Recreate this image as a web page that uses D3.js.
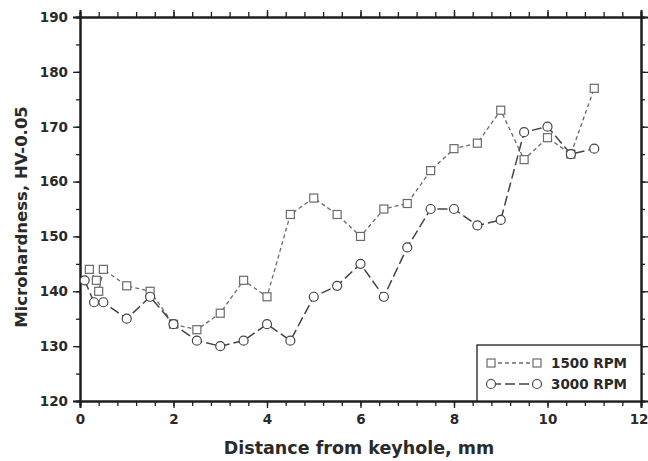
<!DOCTYPE html>
<html>
<head>
<meta charset="utf-8">
<script src="https://cdn.jsdelivr.net/npm/d3@7"></script>
<style>
  html, body { margin: 0; padding: 0; background: #fff; }
  svg { display: block; font-family: "DejaVu Sans", Arial, sans-serif; }
</style>
</head>
<body>
<svg id="chart" width="648" height="461"></svg>
<script>
// Microhardness traverse from the keyhole, two tool speeds
const dist1500 = [0.2, 0.35, 0.4, 0.5, 1.0, 1.5, 2.0, 2.5, 3.0, 3.5, 4.0, 4.5, 5.0, 5.5, 6.0, 6.5, 7.0, 7.5, 8.0, 8.5, 9.0, 9.5, 10.0, 10.5, 11.0];
const hv1500   = [144, 142, 140, 144, 141, 140, 134, 133, 136, 142, 139, 154, 157, 154, 150, 155, 156, 162, 166, 167, 173, 164, 168, 165, 177];
const dist3000 = [0.1, 0.3, 0.5, 1.0, 1.5, 2.0, 2.5, 3.0, 3.5, 4.0, 4.5, 5.0, 5.5, 6.0, 6.5, 7.0, 7.5, 8.0, 8.5, 9.0, 9.5, 10.0, 10.5, 11.0];
const hv3000   = [142, 138, 138, 135, 139, 134, 131, 130, 131, 134, 131, 139, 141, 145, 139, 148, 155, 155, 152, 153, 169, 170, 165, 166];
const seriesNames = ["1500 RPM", "3000 RPM"];
const xTickValues = [0, 2, 4, 6, 8, 10, 12];
const yTickValues = [120, 130, 140, 150, 160, 170, 180, 190];

const W = 648, H = 461;
const m = { left: 80, right: 7, top: 17, bottom: 60 };
const svg = d3.select("#chart");

const x = d3.scaleLinear().domain([0, 12]).range([m.left, W - m.right]);
const y = d3.scaleLinear().domain([120, 190]).range([H - m.bottom, m.top]);

const axisColor = "#1e1e1e";
const textColor = "#2a2a2a";

// minor ticks: every 0.4 mm on x, every 5 HV on y
const xMinor = d3.range(0, 12.0001, 0.4).map(v => +v.toFixed(2));
const yMinor = d3.range(120, 190.0001, 5);

function styleAxis(g) {
  g.selectAll("path.domain").attr("stroke", axisColor).attr("stroke-width", 2);
  g.selectAll(".tick line").attr("stroke", axisColor).attr("stroke-width", 1.3);
  g.selectAll("text").attr("fill", textColor).attr("font-size", 13.5).attr("font-weight", "bold")
    .attr("font-family", "DejaVu Sans, Arial, sans-serif");
}

// minor tick layers
svg.append("g").attr("transform", `translate(0,${H - m.bottom})`)
  .call(d3.axisBottom(x).tickValues(xMinor).tickSize(5).tickFormat(""))
  .call(styleAxis);
svg.append("g").attr("transform", `translate(0,${m.top})`)
  .call(d3.axisTop(x).tickValues(xMinor).tickSize(5).tickFormat(""))
  .call(styleAxis);
svg.append("g").attr("transform", `translate(${m.left},0)`)
  .call(d3.axisLeft(y).tickValues(yMinor).tickSize(4).tickFormat(""))
  .call(styleAxis);
svg.append("g").attr("transform", `translate(${W - m.right},0)`)
  .call(d3.axisRight(y).tickValues(yMinor).tickSize(4).tickFormat(""))
  .call(styleAxis);

// major ticks with labels
const xAxisG = svg.append("g").attr("transform", `translate(0,${H - m.bottom})`)
  .call(d3.axisBottom(x).tickValues(xTickValues).tickSize(7).tickPadding(6).tickFormat(d3.format("d")))
  .call(styleAxis);
// keep the last label inside the page edge
xAxisG.selectAll(".tick text").filter(d => d === 12)
  .attr("text-anchor", "end").attr("dx", 7);
svg.append("g").attr("transform", `translate(0,${m.top})`)
  .call(d3.axisTop(x).tickValues(xTickValues).tickSize(7).tickFormat(""))
  .call(styleAxis);
svg.append("g").attr("transform", `translate(${m.left},0)`)
  .call(d3.axisLeft(y).tickValues(yTickValues).tickSize(7).tickPadding(5).tickFormat(d3.format("d")))
  .call(styleAxis);
svg.append("g").attr("transform", `translate(${W - m.right},0)`)
  .call(d3.axisRight(y).tickValues(yTickValues).tickSize(7).tickFormat(""))
  .call(styleAxis);

// axis titles
svg.append("text")
  .attr("x", 359).attr("y", 454)
  .attr("text-anchor", "middle").attr("font-size", 17.5).attr("font-weight", "bold")
  .attr("fill", textColor).text("Distance from keyhole, mm");
svg.append("text")
  .attr("transform", "translate(27,217) rotate(-90)")
  .attr("text-anchor", "middle").attr("font-size", 16.5).attr("font-weight", "bold")
  .attr("fill", textColor).text("Microhardness, HV-0.05");

const series = [
  { name: seriesNames[0], xs: dist1500, ys: hv1500, dash: "4,3", color: "#6a6a6a", width: 1.3, shape: "square" },
  { name: seriesNames[1], xs: dist3000, ys: hv3000, dash: "10,4", color: "#444", width: 1.5, shape: "circle" }
];

const line = d3.line().x(d => x(d[0])).y(d => y(d[1]));
const plot = svg.append("g");

series.forEach(s => {
  const pts = s.xs.map((v, i) => [v, s.ys[i]]);
  plot.append("path").datum(pts)
    .attr("fill", "none").attr("stroke", s.color)
    .attr("stroke-width", s.width).attr("stroke-dasharray", s.dash)
    .attr("d", line);
});

function drawMarker(g, shape, cx, cy, color) {
  if (shape === "square") {
    g.append("rect").attr("x", cx - 4).attr("y", cy - 4).attr("width", 8).attr("height", 8)
      .attr("fill", "#fff").attr("stroke", color).attr("stroke-width", 1.2);
  } else {
    g.append("circle").attr("cx", cx).attr("cy", cy).attr("r", 4.5)
      .attr("fill", "#fff").attr("stroke", color).attr("stroke-width", 1.2);
  }
}

series.forEach(s => {
  const g = plot.append("g");
  s.xs.forEach((v, i) => drawMarker(g, s.shape, x(v), y(s.ys[i]), s.color));
});

// legend box in the lower right corner
const lg = svg.append("g");
lg.append("rect")
  .attr("x", 477).attr("y", 345).attr("width", W - m.right - 477).attr("height", H - m.bottom - 345)
  .attr("fill", "#fff").attr("stroke", axisColor).attr("stroke-width", 1.3);
series.forEach((s, i) => {
  const ly = 363 + i * 21;
  lg.append("line").attr("x1", 491).attr("x2", 537).attr("y1", ly).attr("y2", ly)
    .attr("stroke", s.color).attr("stroke-width", s.width).attr("stroke-dasharray", s.dash);
  drawMarker(lg, s.shape, 491, ly, s.color);
  drawMarker(lg, s.shape, 537, ly, s.color);
  lg.append("text").attr("x", 551).attr("y", ly + 5)
    .attr("font-size", 13.5).attr("font-weight", "bold").attr("fill", textColor).text(s.name);
});
</script>
</body>
</html>
